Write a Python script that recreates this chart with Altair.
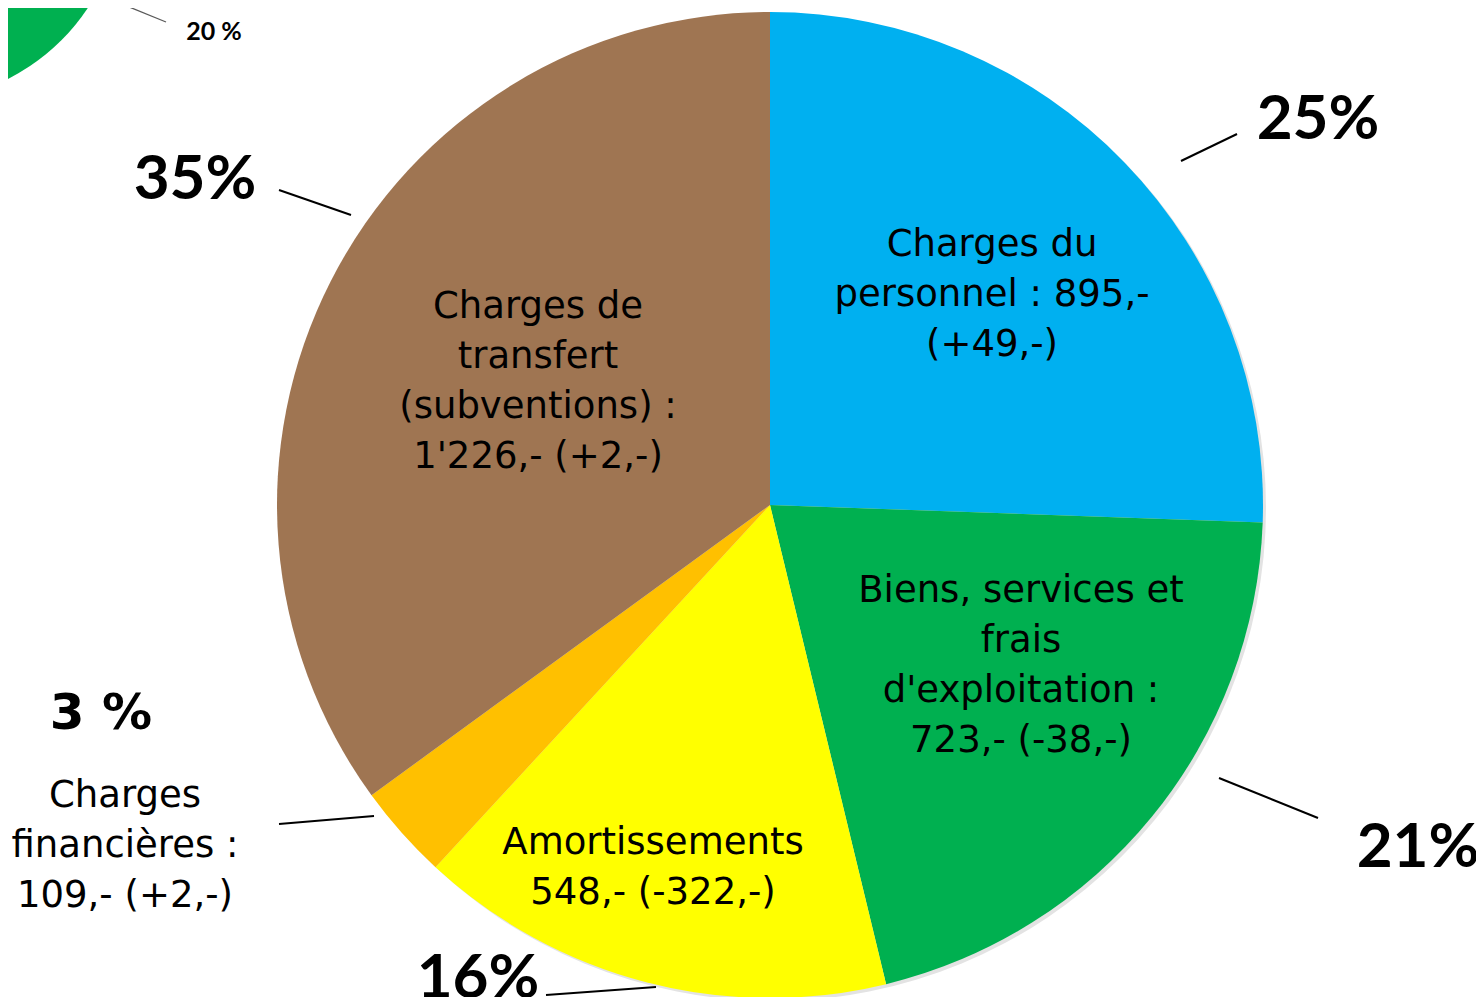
import altair as alt
import pandas as pd

# ---- data ----
categories = [
    "Charges du personnel",
    "Biens, services et frais d'exploitation",
    "Amortissements",
    "Charges financières",
    "Charges de transfert (subventions)",
]
values = [895, 723, 548, 109, 1226]
label_texts = [
    "Charges du\npersonnel : 895,-\n(+49,-)",
    "Biens, services et\nfrais\nd'exploitation :\n723,- (-38,-)",
    "Amortissements\n548,- (-322,-)",
    "Charges\nfinancières :\n109,- (+2,-)",
    "Charges de\ntransfert\n(subventions) :\n1'226,- (+2,-)",
]
pct_texts = ["25%", "21%", "16%", "3 %", "35%"]
colors = ["#00B0F0", "#00B050", "#FFFF00", "#FFC000", "#9F7552"]

# ---- layout (pixel positions of annotations; y = first line) ----
CX, CY, R = 762, 497, 493
label_x = [984, 1013, 645, 117, 530]
label_y = [237, 583, 835, 788, 299]
pct_x = [1310, 1410, 470, 93, 187]
pct_y = [112, 840, 971, 706, 172]
lead_x = [1173, 1211, 538, 271, 271]
lead_y = [153, 770, 987, 816, 182]
lead_x2 = [1229, 1310, 648, 366, 343]
lead_y2 = [126, 810, 979, 808, 207]

pie_df = pd.DataFrame({
    "cat": categories,
    "value": values,
    "idx": list(range(len(values))),
})
ann_df = pd.DataFrame({
    "cat": categories,
    "label": label_texts,
    "pct": pct_texts,
    "lx": label_x, "ly": label_y,
    "px": pct_x, "py": pct_y,
    "x1": lead_x, "y1": lead_y, "x2": lead_x2, "y2": lead_y2,
})

one = pd.DataFrame({"v": [1]})

# remnant of another chart in the top-left corner
corner = alt.Chart(one).mark_arc(color="#00B050").encode(
    theta=alt.value(0), theta2=alt.value(6.2832),
    x=alt.value(-93), y=alt.value(-114), radius=alt.value(207),
)
corner_rule = alt.Chart(one).mark_rule(color="#595959", strokeWidth=1.3).encode(
    x=alt.value(104), y=alt.value(-8), x2=alt.value(158), y2=alt.value(14),
)
corner_text = alt.Chart(pd.DataFrame({"t": ["20 %"]})).mark_text(
    font="Lato", fontWeight="bold", fontSize=25, color="#000000"
).encode(x=alt.value(206), y=alt.value(24), text="t:N")

shadow = alt.Chart(one).mark_arc(color="#E3E3E3").encode(
    theta=alt.value(0), theta2=alt.value(6.2832),
    x=alt.value(CX + 3), y=alt.value(CY + 3), radius=alt.value(R),
)

pie = alt.Chart(pie_df).mark_arc().encode(
    theta=alt.Theta("value:Q", stack=True),
    order=alt.Order("idx:Q"),
    color=alt.Color("cat:N", scale=alt.Scale(domain=categories, range=colors), legend=None),
    x=alt.value(CX), y=alt.value(CY), radius=alt.value(R),
)

labels = alt.Chart(ann_df).mark_text(
    font="DejaVu Sans", fontSize=37, lineBreak="\n", lineHeight=50,
    align="center", baseline="middle", color="#000000",
).encode(
    x=alt.X("lx:Q", scale=None), y=alt.Y("ly:Q", scale=None), text="label:N",
)

pcts = alt.Chart(ann_df).transform_filter(
    alt.datum.pct != "3 %"
).mark_text(
    font="Lato", fontWeight="bold", fontSize=62, align="center", baseline="middle", color="#000000",
).encode(
    x=alt.X("px:Q", scale=None), y=alt.Y("py:Q", scale=None), text="pct:N",
)
pct_small = alt.Chart(ann_df).transform_filter(
    alt.datum.pct == "3 %"
).mark_text(
    font="DejaVu Sans", fontWeight="bold", fontSize=50, align="center", baseline="middle", color="#000000",
).encode(
    x=alt.X("px:Q", scale=None), y=alt.Y("py:Q", scale=None), text="pct:N",
)

leaders = alt.Chart(ann_df).mark_rule(color="#000000", strokeWidth=2).encode(
    x=alt.X("x1:Q", scale=None), y=alt.Y("y1:Q", scale=None),
    x2="x2:Q", y2="y2:Q",
)

chart = alt.layer(
    corner, corner_rule, corner_text, shadow, pie, leaders, labels, pcts, pct_small
).properties(
    width=1468, height=989, padding=0,
    autosize=alt.AutoSizeParams(type="none"),
).configure_view(stroke=None)

chart.save("out.html", embed_options={"renderer": "svg", "actions": False})
